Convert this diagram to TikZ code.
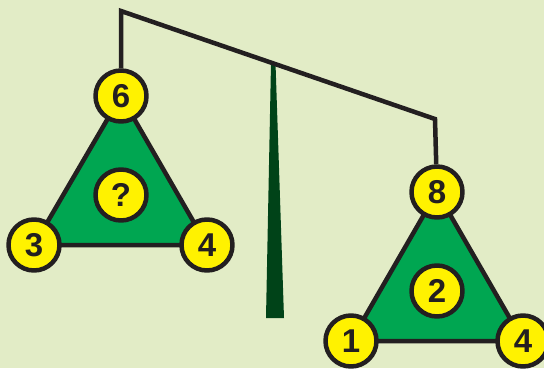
\documentclass[tikz,border=0pt]{standalone}
\usepackage{fontspec}
\setmainfont{Liberation Sans}
\usetikzlibrary{backgrounds}
\definecolor{scaleBack}{HTML}{E2ECC6}
\definecolor{scaleGreen}{HTML}{00A651}
\definecolor{scalePole}{HTML}{004318}
\definecolor{scaleYellow}{HTML}{FFF200}
\definecolor{scaleInk}{HTML}{231F20}

\begin{document}
\begin{tikzpicture}[x=1pt,y=-1pt,line cap=round,line join=round]
\tikzset{ball/.style={circle,draw=scaleInk,fill=scaleYellow,line width=4.5pt,minimum size=51pt,inner sep=0pt,font=\fontsize{33}{36}\selectfont\bfseries,text=scaleInk},
  rod/.style={draw=scaleInk,line width=4.5pt,line join=miter,line cap=butt},
  plate/.style={draw=scaleInk,fill=scaleGreen,line width=4.5pt,line join=miter}}
\useasboundingbox (0,0) rectangle (544,368);
% left pan
\node[ball] (six) at (121,96) {6};
\node[ball] (qmark) at (121,195) {?};
\node[ball] (three) at (34,245) {3};
\node[ball] (fourL) at (207,245) {4};
% right pan
\node[ball] (eight) at (437,192) {8};
\node[ball] (two) at (437,291) {2};
\node[ball] (one) at (351,341) {1};
\node[ball] (fourR) at (523,341) {4};
\coordinate (beamL) at (121,11);
\coordinate (beamR) at (435,119);
\begin{scope}[on background layer]
\path[fill=scaleBack] (0,0) rectangle (544,368);
\fill[scalePole] (266,318) -- (284,318) -- (275.5,63) -- (271,63) -- cycle;
\draw[plate] (six.center) -- (three.center) -- (fourL.center) -- cycle;
\draw[plate] (eight.center) -- (one.center) -- (fourR.center) -- cycle;
\draw[rod] (six) -- (beamL) -- (beamR) -- (eight);
\end{scope}
\end{tikzpicture}
\end{document}
